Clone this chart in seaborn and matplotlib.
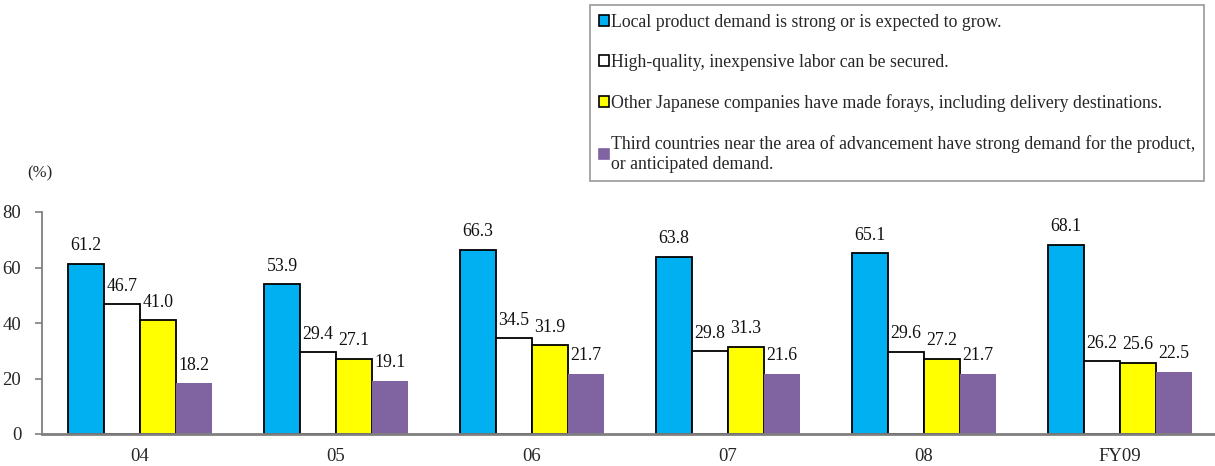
import matplotlib
matplotlib.use("Agg")
import matplotlib.pyplot as plt
from matplotlib.patches import Patch
import seaborn as sns
import pandas as pd

years = ["04", "05", "06", "07", "08", "FY09"]
reasons = [
    "Local product demand is strong or is expected to grow.",
    "High-quality, inexpensive labor can be secured.",
    "Other Japanese companies have made forays, including delivery destinations.",
    "Third countries near the area of advancement have strong demand for the product,\nor anticipated demand.",
]
local_demand = [61.2, 53.9, 66.3, 63.8, 65.1, 68.1]
cheap_labor = [46.7, 29.4, 34.5, 29.8, 29.6, 26.2]
other_japanese = [41.0, 27.1, 31.9, 31.3, 27.2, 25.6]
third_countries = [18.2, 19.1, 21.7, 21.6, 21.7, 22.5]

colors = ["#00B0F0", "#FFFFFF", "#FFFF00", "#8064A2"]
edges = ["black", "black", "black", "none"]

series = [local_demand, cheap_labor, other_japanese, third_countries]
rows = []
for reason, vals in zip(reasons, series):
    for y, v in zip(years, vals):
        rows.append({"year": y, "reason": reason, "value": v})
df = pd.DataFrame(rows)

sns.set_theme(style="white")
plt.rcParams["font.family"] = ["Liberation Serif", "DejaVu Serif"]

fig = plt.figure(figsize=(12.15, 4.66), dpi=100)
ax = fig.add_axes([42 / 1215, 32 / 466, 1176 / 1215, 222 / 466])

sns.barplot(data=df, x="year", y="value", hue="reason", order=years,
            hue_order=reasons, palette=colors, width=0.735, saturation=1,
            legend=False, ax=ax)

for cont, ec in zip(ax.containers, edges):
    for bar in cont:
        bar.set_edgecolor(ec)
        bar.set_linewidth(1.3 if ec != "none" else 0)
    ax.bar_label(cont, fmt="%.1f", padding=7, fontsize=12.8, color="#111111")

ax.set_xlim(-0.5, 5.5)
ax.set_ylim(0, 80)
ax.set_yticks([0, 20, 40, 60, 80])
ax.set_xlabel("")
ax.set_ylabel("")
ax.tick_params(axis="y", which="major", left=True, length=5, width=1.2,
               color="#7f7f7f", labelsize=13.5, pad=10)
ax.tick_params(axis="x", bottom=False, labelsize=13.5, pad=4)
for side in ["top", "right"]:
    ax.spines[side].set_visible(False)
ax.spines["left"].set_color("#7f7f7f")
ax.spines["left"].set_linewidth(1.3)
ax.spines["bottom"].set_color("#7f7f7f")
ax.spines["bottom"].set_linewidth(2)

fig.text(27 / 1215, 1 - 173 / 466, "(%)", fontsize=12, va="center", ha="left")

handles = [Patch(facecolor=c, edgecolor=("black" if e != "none" else c),
                 linewidth=1.2) for c, e in zip(colors, edges)]
leg = fig.legend(handles, reasons, loc="upper left",
                 bbox_to_anchor=(590 / 1215, 1 - 5 / 466), fontsize=12.8,
                 handlelength=0.55, handleheight=0.55, handletextpad=0.15,
                 labelspacing=1.3, borderpad=0.5, fancybox=False,
                 frameon=True, borderaxespad=0)
leg.get_frame().set_edgecolor("#7f7f7f")
leg.get_frame().set_linewidth(1.2)

fig.savefig("out.png", dpi=100)
